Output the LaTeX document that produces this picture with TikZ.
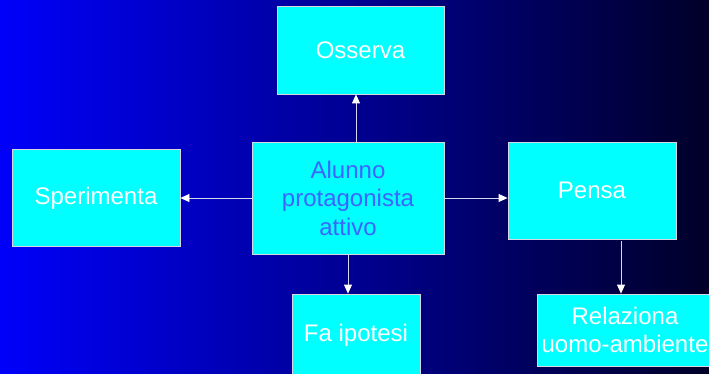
\documentclass[tikz,border=0pt]{standalone}
\usepackage{fontspec}
\setmainfont{Liberation Sans}
\usetikzlibrary{positioning,arrows.meta}
\definecolor{boxfill}{RGB}{0,255,255}
\definecolor{boxline}{RGB}{215,215,225}
\definecolor{bgleft}{RGB}{0,0,250}
\definecolor{bgright}{RGB}{0,0,40}
\definecolor{maintext}{RGB}{60,100,255}
\definecolor{arrline}{RGB}{215,215,240}

\begin{document}
\begin{tikzpicture}[node distance=140pt, on grid,
		box/.style={draw=boxline, fill=boxfill, line width=0.8pt, text=white, align=center, inner sep=0pt, font=\fontsize{24}{28.5}\selectfont},
		arr/.style={draw=arrline, line width=0.8pt, -{Triangle[width=8pt, length=9pt, color=white]}}]
				\useasboundingbox (0,0) rectangle (709pt,-374pt);
				\clip (0,0) rectangle (709pt,-374pt);
				\shade[left color=bgleft, right color=bgright] (0,0) rectangle (709pt,-374pt);
				
				\node[box, minimum width=192pt, minimum height=112pt, text=maintext] (alunno) at (348pt,-198pt) {Alunno\\protagonista\\attivo};
				\node[box, minimum width=167pt, minimum height=88pt] (osserva) [above=148pt of alunno, xshift=12.5pt] {Osserva};
				\node[box, minimum width=168pt, minimum height=97pt] (sperimenta) [left=252pt of alunno] {Sperimenta};
				\node[box, minimum width=168pt, minimum height=97pt] (pensa) [right=244pt of alunno, yshift=7.5pt] {Pensa};
				\node[box, minimum width=128pt, minimum height=82pt] (ipotesi) [below=137pt of alunno, xshift=8pt] {Fa ipotesi};
				\node[box, minimum width=176pt, minimum height=72pt] (relaziona) [below=139.5pt of pensa, xshift=33pt] {Relaziona\\uomo-ambiente};
				
				\path
				([xshift=8pt]alunno.north) edge[arr] ([xshift=8pt]alunno.north |- osserva.south)
				(alunno.west) edge[arr] (sperimenta.east)
				(alunno.east) edge[arr] (alunno.east -| pensa.west)
				(alunno.south) edge[arr] (alunno.south |- ipotesi.north)
				([xshift=29pt, yshift=-2pt]pensa.south) edge[arr] ([xshift=29pt]pensa.south |- relaziona.north)
				;
			\end{tikzpicture}
\end{document}
